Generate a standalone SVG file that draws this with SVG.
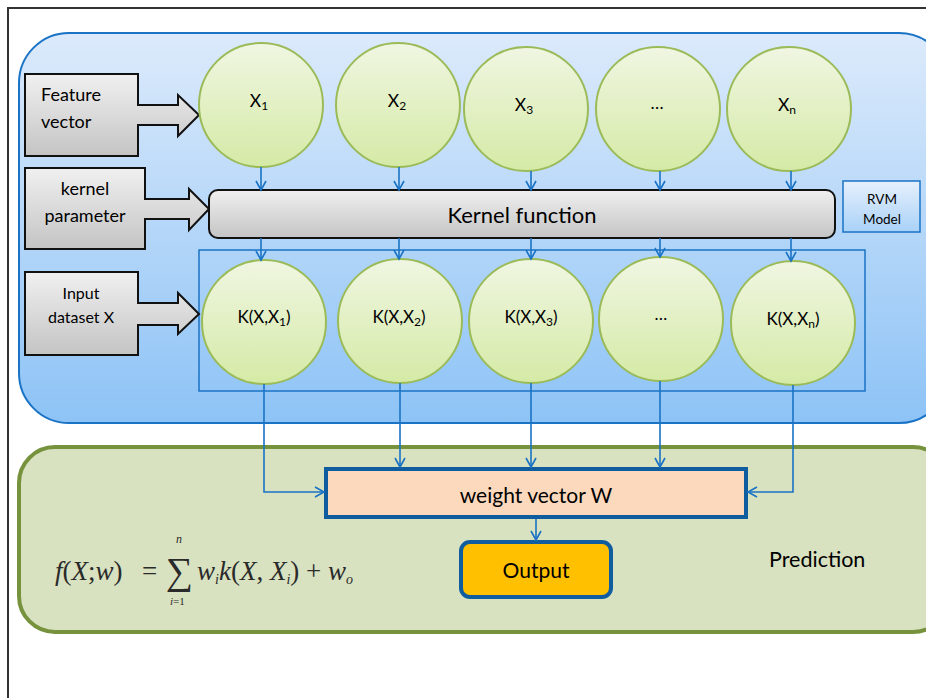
<svg xmlns="http://www.w3.org/2000/svg" width="926" height="698" viewBox="0 0 926 698">
<defs>
<linearGradient id="gBlue" x1="0" y1="0" x2="0" y2="1">
<stop offset="0" stop-color="#dceafb"/><stop offset="1" stop-color="#8dc3f6"/>
</linearGradient>
<linearGradient id="gGray" x1="0" y1="0" x2="0" y2="1">
<stop offset="0" stop-color="#f0f0f0"/><stop offset="1" stop-color="#c4c4c4"/>
</linearGradient>
<linearGradient id="gGreen" x1="0" y1="0" x2="0" y2="1">
<stop offset="0" stop-color="#f0f6e2"/><stop offset="1" stop-color="#d5eaa6"/>
</linearGradient>
<linearGradient id="gRvm" x1="0" y1="0" x2="0" y2="1">
<stop offset="0" stop-color="#e6f0fc"/><stop offset="1" stop-color="#a9d1f8"/>
</linearGradient>
<marker id="arr" markerWidth="12" markerHeight="12" refX="10" refY="6" orient="auto" markerUnits="userSpaceOnUse">
<path d="M1,1 L10,6 L1,11" fill="none" stroke="#1a73c5" stroke-width="1.6"/>
</marker>
<style>
.t{font-family:Lato,"Open Sans","Liberation Sans",sans-serif;fill:#000}
.gbox{fill:url(#gGray);stroke:#111;stroke-width:2}
.circ{fill:url(#gGreen);stroke:#9bbb59;stroke-width:2}
.con{fill:none;stroke:#1a73c5;stroke-width:1.6}
.m{font-family:"Liberation Serif","Times New Roman",serif;fill:#2a2a2a}
</style>
</defs>
<rect x="0" y="0" width="926" height="698" fill="#fff"/>
<rect x="8" y="8" width="940" height="720" fill="none" stroke="#333" stroke-width="2"/>

<g id="rvm-region">
<rect x="19" y="33" width="930" height="390" rx="50" ry="50" fill="url(#gBlue)" stroke="#1a73c5" stroke-width="2"/>
<rect x="199" y="250" width="666" height="141" fill="none" stroke="#1a73c5" stroke-width="1.5"/>
</g>
<g id="prediction-region">
<rect x="19" y="447" width="930" height="185" rx="36" ry="36" fill="#d8e1c0" stroke="#76923c" stroke-width="4"/>
<text class="t" x="769" y="567" font-size="21.5">Prediction</text>
</g>

<g id="feature-vector">
<path class="gbox" d="M25,74 H138 V105 H178 V95 L199,115 L178,136 V125 H138 V156 H25 Z"/>
<text class="t" x="41" y="101" font-size="18">Feature</text>
<text class="t" x="41" y="128" font-size="18">vector</text>
</g>
<g id="kernel-parameter">
<path class="gbox" d="M25,168 H145 V199 H189 V189 L209,209 L189,230 V219 H145 V249 H25 Z"/>
<text class="t" x="85" y="195" font-size="18" text-anchor="middle">kernel</text>
<text class="t" x="85" y="222" font-size="18" text-anchor="middle">parameter</text>
</g>
<g id="input-dataset">
<path class="gbox" d="M25,272 H138 V303 H178 V293 L199,314 L178,334 V325 H138 V355 H25 Z"/>
<text class="t" x="81" y="299" font-size="16" text-anchor="middle">Input</text>
<text class="t" x="81" y="323" font-size="16" text-anchor="middle">dataset X</text>
</g>

<g id="x1"><circle class="circ" cx="261" cy="105" r="62"/><text class="t" x="259" y="107" font-size="17.5" text-anchor="middle">X<tspan font-size="12" dy="3">1</tspan></text></g>
<g id="x2"><circle class="circ" cx="398" cy="105" r="62"/><text class="t" x="397" y="107" font-size="17.5" text-anchor="middle">X<tspan font-size="12" dy="3">2</tspan></text></g>
<g id="x3"><circle class="circ" cx="526" cy="109" r="62"/><text class="t" x="524" y="111" font-size="17.5" text-anchor="middle">X<tspan font-size="12" dy="3">3</tspan></text></g>
<g id="xdots"><circle class="circ" cx="658" cy="109" r="62"/><text class="t" x="657" y="109" font-size="17.5" text-anchor="middle">…</text></g>
<g id="xn"><circle class="circ" cx="789" cy="109" r="62"/><text class="t" x="787" y="111" font-size="17.5" text-anchor="middle">X<tspan font-size="12" dy="3">n</tspan></text></g>

<g id="kernel-function">
<rect x="209" y="190" width="626" height="48" rx="9" ry="9" class="gbox"/>
<text class="t" x="522" y="223" font-size="22" text-anchor="middle">Kernel function</text>
</g>
<g id="rvm-model">
<rect x="843" y="181" width="77" height="51" fill="url(#gRvm)" stroke="#1a73c5" stroke-width="1.5"/>
<text class="t" x="882" y="204" font-size="13.5" text-anchor="middle">RVM</text>
<text class="t" x="882" y="224" font-size="13.5" text-anchor="middle">Model</text>
</g>

<g id="k1"><circle class="circ" cx="264" cy="322" r="62"/><text class="t" x="264" y="323" font-size="17" text-anchor="middle">K(X,X<tspan font-size="12" dy="3">1</tspan><tspan dy="-3">)</tspan></text></g>
<g id="k2"><circle class="circ" cx="400" cy="321" r="62"/><text class="t" x="399" y="323" font-size="17" text-anchor="middle">K(X,X<tspan font-size="12" dy="3">2</tspan><tspan dy="-3">)</tspan></text></g>
<g id="k3"><circle class="circ" cx="531" cy="321" r="62"/><text class="t" x="531" y="323" font-size="17" text-anchor="middle">K(X,X<tspan font-size="12" dy="3">3</tspan><tspan dy="-3">)</tspan></text></g>
<g id="kdots"><circle class="circ" cx="661" cy="319" r="62"/><text class="t" x="661" y="320" font-size="17" text-anchor="middle">…</text></g>
<g id="kn"><circle class="circ" cx="793" cy="323" r="62"/><text class="t" x="793" y="325" font-size="17" text-anchor="middle">K(X,X<tspan font-size="12" dy="3">n</tspan><tspan dy="-3">)</tspan></text></g>

<g id="weight-vector">
<rect x="326" y="469" width="420" height="48" fill="#fcd9bd" stroke="#0f5c9e" stroke-width="4"/>
<text class="t" x="536" y="503" font-size="21" text-anchor="middle">weight vector W</text>
</g>
<g id="output">
<rect x="461" y="542" width="150" height="55" rx="9" ry="9" fill="#ffc000" stroke="#0f5c9e" stroke-width="4"/>
<text class="t" x="536" y="578" font-size="21" text-anchor="middle">Output</text>
</g>

<g id="formula">
<text class="m" x="55" y="580" font-size="27"><tspan font-style="italic">f</tspan>(<tspan font-style="italic">X</tspan>;<tspan font-style="italic">w</tspan>)</text>
<text class="m" x="142" y="580" font-size="27">=</text>
<text class="m" x="166" y="584" font-size="38">∑</text>
<text class="m" x="176" y="543" font-size="12" font-style="italic">n</text>
<text class="m" x="170" y="605" font-size="11"><tspan font-style="italic">i</tspan>=1</text>
<text class="m" x="197" y="580" font-size="27"><tspan font-style="italic">w</tspan><tspan font-style="italic" font-size="14" dy="4">i</tspan><tspan font-style="italic" dy="-4">k</tspan>(<tspan font-style="italic">X</tspan>, <tspan font-style="italic">X</tspan><tspan font-style="italic" font-size="14" dy="4">i</tspan><tspan dy="-4">) + </tspan><tspan font-style="italic">w</tspan><tspan font-style="italic" font-size="14" dy="4">o</tspan></text>
</g>

<g id="connectors">
<path class="con" d="M261,167 V190" marker-end="url(#arr)"/>
<path class="con" d="M399,167 V190" marker-end="url(#arr)"/>
<path class="con" d="M531,171 V190" marker-end="url(#arr)"/>
<path class="con" d="M660,171 V190" marker-end="url(#arr)"/>
<path class="con" d="M791,171 V190" marker-end="url(#arr)"/>
<path class="con" d="M261,238 V260" marker-end="url(#arr)"/>
<path class="con" d="M399,238 V259" marker-end="url(#arr)"/>
<path class="con" d="M531,238 V259" marker-end="url(#arr)"/>
<path class="con" d="M660,238 V257" marker-end="url(#arr)"/>
<path class="con" d="M791,238 V261" marker-end="url(#arr)"/>
<path class="con" d="M264,384 V492 H324" marker-end="url(#arr)"/>
<path class="con" d="M400,383 V467" marker-end="url(#arr)"/>
<path class="con" d="M531,383 V467" marker-end="url(#arr)"/>
<path class="con" d="M660,381 V467" marker-end="url(#arr)"/>
<path class="con" d="M793,385 V492 H748" marker-end="url(#arr)"/>
<path class="con" d="M536,519 V540" marker-end="url(#arr)"/>
</g>
</svg>
